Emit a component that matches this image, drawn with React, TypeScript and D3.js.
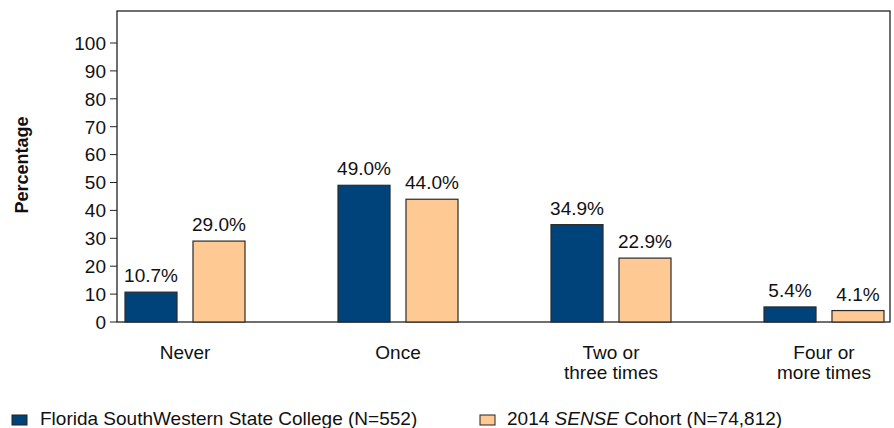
import React from "react";
import * as d3 from "d3";

// values
const categories = ["Never", "Once", "Two or|three times", "Four or|more times"];
const seriesNames = ["college", "cohort"];
const collegeValues = [10.7, 49.0, 34.9, 5.4];
const cohortValues = [29.0, 44.0, 22.9, 4.1];
const yTicks = [0, 10, 20, 30, 40, 50, 60, 70, 80, 90, 100];

const colors: Record<string, string> = { college: "#00427a", cohort: "#ffc994" };
const font = "'Liberation Sans', Arial, Helvetica, sans-serif";

const W = 894;
const H = 428;
const frame = { left: 117, right: 890, top: 11, bottom: 322 };

export default function App() {
  const x0 = d3
    .scaleBand<string>()
    .domain(categories)
    .range([125, 884])
    .paddingInner(0.4366)
    .paddingOuter(0);
  const x1 = d3
    .scaleBand<string>()
    .domain(seriesNames)
    .range([0, x0.bandwidth()])
    .paddingInner(0.235);
  const y = d3.scaleLinear().domain([0, 100]).range([frame.bottom, 43]);

  const rows = categories.map((c, i) => ({
    cat: c,
    vals: [
      { key: "college", v: collegeValues[i] },
      { key: "cohort", v: cohortValues[i] },
    ],
  }));

  return (
    <svg
      width={W}
      height={H}
      style={{ position: "absolute", left: 0, top: 0, fontFamily: font }}
    >
      <rect width={W} height={H} fill="#fff" />

      {/* frame */}
      <rect
        x={frame.left}
        y={frame.top}
        width={frame.right - frame.left}
        height={frame.bottom - frame.top}
        fill="none"
        stroke="#222"
        strokeWidth={1.3}
      />

      {/* y axis ticks */}
      {yTicks.map((t) => (
        <g key={t} transform={`translate(0,${y(t)})`}>
          <line x1={frame.left - 7} x2={frame.left} stroke="#222" strokeWidth={1} />
          <text x={frame.left - 11} dy="0.36em" textAnchor="end" fontSize={19} fill="#111">
            {t}
          </text>
        </g>
      ))}

      <text
        transform={`translate(28,165) rotate(-90)`}
        textAnchor="middle"
        fontSize={18}
        fontWeight="bold"
        fill="#111"
      >
        Percentage
      </text>

      {/* bars */}
      {rows.map((r) => (
        <g key={r.cat} transform={`translate(${x0(r.cat)},0)`}>
          {r.vals.map((d) => (
            <g key={d.key}>
              <rect
                x={x1(d.key)}
                y={y(d.v)}
                width={x1.bandwidth()}
                height={y(0) - y(d.v)}
                fill={colors[d.key]}
                stroke="#2a2a2a"
                strokeWidth={1.2}
              />
              <text
                x={(x1(d.key) as number) + x1.bandwidth() / 2}
                y={y(d.v) - 10}
                textAnchor="middle"
                fontSize={19}
                fill="#111"
              >
                {d.v.toFixed(1)}%
              </text>
            </g>
          ))}
          {r.cat.split("|").map((line, li) => (
            <text
              key={li}
              x={x0.bandwidth() / 2}
              y={359 + li * 20}
              textAnchor="middle"
              fontSize={19}
              fill="#111"
            >
              {line}
            </text>
          ))}
        </g>
      ))}

      {/* legend */}
      <rect x={12} y={415} width={15} height={10} fill={colors.college} stroke="#222" strokeWidth={1} />
      <text x={40} y={425} fontSize={19} fill="#111">
        Florida SouthWestern State College (N=552)
      </text>
      <rect x={480} y={415} width={15} height={10} fill={colors.cohort} stroke="#222" strokeWidth={1} />
      <text x={507} y={425} fontSize={19} fill="#111">
        2014 <tspan fontStyle="italic">SENSE</tspan> Cohort (N=74,812)
      </text>
    </svg>
  );
}
